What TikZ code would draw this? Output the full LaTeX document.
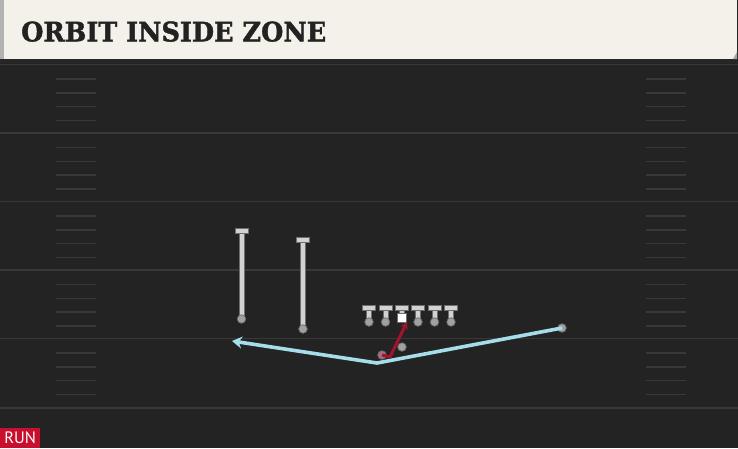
\documentclass[tikz,border=0pt]{standalone}
\usepackage{fontspec}
\usetikzlibrary{arrows.meta}
\newfontfamily\titlefont[BoldFeatures={FakeBold=1.5}]{DejaVu Serif}
\newfontfamily\runfont{PT Sans}
\definecolor{bg}{HTML}{232323}
\definecolor{yardc}{HTML}{383838}
\definecolor{hashc}{HTML}{393939}
\definecolor{barc}{HTML}{F4F1EA}
\definecolor{titlec}{HTML}{222222}
\definecolor{tlight}{HTML}{D2D2D2}
\definecolor{tdark}{HTML}{6E6E6E}
\definecolor{dotc}{HTML}{A0A0A0}
\definecolor{routeblue}{HTML}{A6DDEB}
\definecolor{routered}{HTML}{A3132E}
\definecolor{qbc}{HTML}{A07080}
\definecolor{runred}{HTML}{C8102E}
\tikzset{
  yardline/.style={draw=yardc, line width=1.8pt},
  hashmark/.style={draw=hashc, line width=1.5pt},
  stemout/.style={draw=tdark, line width=6pt},
  stemin/.style={draw=tlight, line width=4pt},
  capbox/.style={fill=tlight, draw=tdark, line width=0.9pt},
  dotnode/.style={circle, fill=dotc, draw=tdark, line width=0.7pt, minimum size=8.5pt, inner sep=0pt},
  ballnode/.style={rectangle, fill=white, draw=tdark, line width=0.5pt, minimum size=9pt, inner sep=0pt},
  bluepath/.style={draw=routeblue, line width=3.6pt, line join=round},
  redpath/.style={draw=routered, line width=3pt, line join=round},
}
\begin{document}
\begin{tikzpicture}[x=1pt,y=-1pt]
\useasboundingbox (0,0) rectangle (738,448);
\fill[bg] (0,0) rectangle (738,448);
% yard lines
\foreach \y in {64.5,133,201.5,270,338.5,408} \draw[yardline] (0,\y) -- (738,\y);
% hash marks
\foreach \y in {64.5,133,201.5,270,338.5} {
  \foreach \k in {0,1,2,3} {
    \draw[hashmark] (56,\y+14.5+\k*13.8) -- (96,\y+14.5+\k*13.8);
    \draw[hashmark] (646,\y+14.5+\k*13.8) -- (686,\y+14.5+\k*13.8);
  }
}
% title bar
\fill[black!85] (0,58) rectangle (738,63);
\fill[barc] (3,0) rectangle (737,59);
\fill[gray!60] (0,0) rectangle (4,59);
\fill[gray!70] (737,52) -- (737,59) -- (733,59) -- cycle;
\node[anchor=south west, inner sep=0pt, text=titlec] (title) at (21,42)
  {\resizebox{305pt}{20pt}{\titlefont\bfseries ORBIT INSIDE ZONE}};
% receivers (vertical T routes)
\foreach \x/\yt/\yb/\n in {241.5/231/319/wa, 303/240/329/wb} {
  \draw[stemout] (\x,\yt) -- (\x,\yb);
  \draw[stemin] (\x,\yt) -- (\x,\yb);
  \draw[capbox] (\x-6.5,\yt-2.5) rectangle (\x+6.5,\yt+2.5);
  \node[dotnode] (\n) at (\x,\yb) {};
}
% offensive line
\foreach \x/\n in {369/l1,385.5/l2,418/l4,434.5/l5,451/l6} {
  \draw[stemout] (\x,308) -- (\x,321);
  \draw[stemin] (\x,308) -- (\x,321);
  \draw[capbox] (\x-6.5,305) rectangle (\x+6.5,310);
  \node[dotnode] (\n) at (\x,322) {};
}
\draw[stemout] (402,308) -- (402,314);
\draw[stemin] (402,308) -- (402,314);
\draw[capbox] (395.5,305) rectangle (408.5,310);
\node[ballnode] (ctr) at (402,318) {};
% backfield
\node[dotnode] (rb) at (402,347) {};
\node[dotnode, fill=qbc] (qb) at (382,355) {};
\node[dotnode] (wr) at (562,328) {};
\coordinate (bv) at (377,363);
\coordinate (bend) at (232,341);
\coordinate (rk) at (390,357);
\coordinate (rend) at (407,322);
% routes
\draw[bluepath, -{Stealth[length=10pt,width=12pt]}] (wr.center) -- (bv) -- (bend);
\draw[redpath, -{Stealth[length=7pt,width=8pt]}] (qb.center) -- (rk) -- (rend);
% RUN label
\node[fill=runred, text=white, anchor=south west, minimum width=40pt, minimum height=20pt, inner sep=0pt, font=\runfont\fontsize{16.5}{16.5}\selectfont] (run) at (0,448) {RUN};
\end{tikzpicture}
\end{document}
